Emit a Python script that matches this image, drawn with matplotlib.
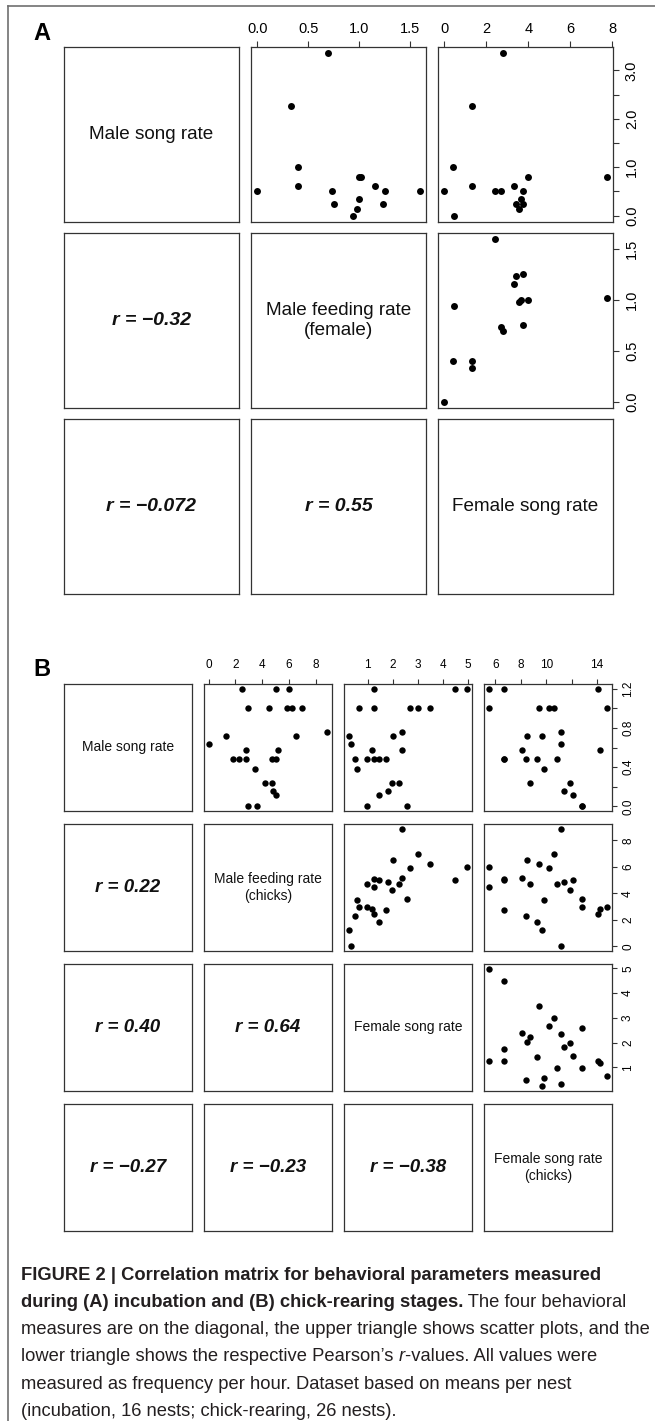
import matplotlib
matplotlib.use("Agg")
import matplotlib.pyplot as plt
from matplotlib.lines import Line2D

plt.rcParams["font.family"] = ["Liberation Sans", "DejaVu Sans"]

W, H = 655, 1421

# ---------------- panel A : incubation, 16 nests ----------------
a_male_song = [0.5, 0.24, 0.5, 0.6, 0.14, 0.35, 0.8, 0.8, 0.0, 0.24, 0.5, 3.35, 1.0, 0.6, 2.27, 0.5]
a_male_feed = [1.59, 1.23, 1.25, 1.155, 0.98, 1.0, 1.0, 1.02, 0.94, 0.75, 0.73, 0.69, 0.40, 0.40, 0.33, 0.0]
a_female_song = [2.43, 3.43, 3.75, 3.30, 3.54, 3.65, 3.99, 7.72, 0.46, 3.75, 2.67, 2.78, 0.40, 1.33, 1.33, 0.0]
a_names = ["Male song rate", "Male feeding rate\n(female)", "Female song rate"]
a_r = ["\u22120.32", "\u22120.072", "0.55"]  # (2,1), (3,1), (3,2)
a_ticks = [[0, 0.5, 1, 1.5, 2, 2.5, 3], [0, 0.5, 1, 1.5], [0, 2, 4, 6, 8]]
a_ticklabels = [["0.0", "", "1.0", "", "2.0", "", "3.0"],
                ["0.0", "0.5", "1.0", "1.5"],
                ["0", "2", "4", "6", "8"]]

# ---------------- panel B : chick-rearing, 26 nests ----------------
b_male_song = [1.2, 1.2, 1.0, 1.0, 1.0, 0.0, 0.575, 0.76, 0.24, 0.72, 0.24, 0.16, 0.48,
               0.12, 0.48, 1.0, 0.48, 1.2, 0.575, 0.48, 0.0, 1.0, 0.48, 0.385, 0.64, 0.72]
b_male_feed = [5.99, 5.01, 6.22, 7.0, 5.89, 3.6, 5.19, 8.88, 4.73, 6.54, 4.23, 4.83, 2.77,
               5.03, 1.81, 4.48, 5.06, 2.47, 2.82, 4.73, 2.97, 2.97, 2.26, 3.50, 0.0, 1.26]
b_female_song = [4.98, 4.49, 3.48, 2.99, 2.69, 2.59, 2.38, 2.36, 2.24, 2.02, 1.99, 1.82, 1.74,
                 1.47, 1.44, 1.24, 1.24, 1.24, 1.18, 0.99, 0.99, 0.67, 0.50, 0.57, 0.33, 0.24]
b_female_song_chicks = [5.47, 6.71, 9.42, 10.63, 10.21, 12.84, 8.11, 11.2, 8.69, 8.50, 11.85, 11.38, 6.71,
                        12.11, 9.29, 5.47, 6.71, 14.06, 14.21, 10.82, 12.84, 14.81, 8.42, 9.82, 11.2, 9.66]
b_names = ["Male song rate", "Male feeding rate\n(chicks)", "Female song rate",
           "Female song rate\n(chicks)"]
b_r = ["0.22", "0.40", "0.64", "\u22120.27", "\u22120.23", "\u22120.38"]  # row by row
b_ticks = [[0, 0.2, 0.4, 0.6, 0.8, 1.0, 1.2], [0, 2, 4, 6, 8], [1, 2, 3, 4, 5], [6, 8, 10, 12, 14]]
b_ticklabels = [["0.0", "", "0.4", "", "0.8", "", "1.2"],
                ["0", "2", "4", "6", "8"],
                ["1", "2", "3", "4", "5"],
                ["6", "8", "10", "", "14"]]


def lims(v):
    # R style 4 % padding
    lo, hi = min(v), max(v)
    d = (hi - lo) * 0.04
    return lo - d, hi + d


def pairs_panel(fig, data, names, rvals, ticks, ticklabels, lefts, tops, size,
                name_size, r_size, tick_size, tick_len, xpad, msize):
    n = len(data)
    k = 0
    for i in range(n):
        for j in range(n):
            x0, y0 = lefts[j], tops[i]
            ax = fig.add_axes([x0 / W, 1 - (y0 + size[1]) / H, size[0] / W, size[1] / H])
            for s in ax.spines.values():
                s.set_color("#333333")
                s.set_linewidth(0.9)
            ax.set_xticks([])
            ax.set_yticks([])
            if i == j:
                ax.text(0.5, 0.5, names[i], ha="center", va="center", fontsize=name_size,
                        color="#111111", transform=ax.transAxes, linespacing=1.25)
            elif i > j:
                ax.text(0.5, 0.5, "r = " + rvals[k], ha="center", va="center", fontsize=r_size,
                        fontweight="bold", fontstyle="italic", color="#111111",
                        transform=ax.transAxes)
                k += 1
            else:
                ax.plot(data[j], data[i], "o", color="black", markersize=msize, markeredgewidth=0)
                ax.set_xlim(lims(data[j]))
                ax.set_ylim(lims(data[i]))
                if i == 0:
                    ax.xaxis.tick_top()
                    ax.set_xticks(ticks[j])
                    ax.set_xticklabels(ticklabels[j])
                    ax.tick_params(axis="x", top=True, length=tick_len, width=0.8,
                                   pad=xpad, labelsize=tick_size, color="#333333")
                if j == n - 1:
                    ax.yaxis.tick_right()
                    ax.set_yticks(ticks[i])
                    ax.set_yticklabels(ticklabels[i], rotation=90, va="center")
                    ax.tick_params(axis="y", right=True, length=tick_len, width=0.8,
                                   pad=tick_len, labelsize=tick_size, color="#333333")


fig = plt.figure(figsize=(W / 100, H / 100), dpi=100)

# outer frame (top and left rules)
fig.add_artist(Line2D([8 / W, 1], [1 - 6 / H, 1 - 6 / H], color="#707070", lw=1.2))
fig.add_artist(Line2D([8 / W, 8 / W], [1 - 6 / H, 0], color="#707070", lw=1.2))

fig.text(42 / W, 1 - 33 / H, "A", fontsize=17, fontweight="bold", ha="center", va="center")
fig.text(42 / W, 1 - 670 / H, "B", fontsize=17, fontweight="bold", ha="center", va="center")

pairs_panel(fig, [a_male_song, a_male_feed, a_female_song], a_names, a_r,
            a_ticks, a_ticklabels, [64, 251, 438], [47, 233, 419], (175, 175),
            13.6, 14, 10.5, 4.3, 3.5, 5.0)

pairs_panel(fig, [b_male_song, b_male_feed, b_female_song, b_female_song_chicks], b_names, b_r,
            b_ticks, b_ticklabels, [64, 204, 344, 484], [684, 824, 964, 1104], (128, 127),
            10, 13.5, 8.5, 3.6, 5.6, 4.6)

# ---------------- caption ----------------
caption = [
    [("FIGURE 2 | Correlation matrix for behavioral parameters measured", "bold", "normal")],
    [("during (A) incubation and (B) chick-rearing stages.", "bold", "normal"),
     (" The four behavioral", "normal", "normal")],
    [("measures are on the diagonal, the upper triangle shows scatter plots, and the", "normal", "normal")],
    [("lower triangle shows the respective Pearson\u2019s ", "normal", "normal"),
     ("r", "normal", "italic"),
     ("-values. All values were", "normal", "normal")],
    [("measured as frequency per hour. Dataset based on means per nest", "normal", "normal")],
    [("(incubation, 16 nests; chick-rearing, 26 nests).", "normal", "normal")],
]

renderer = fig.canvas.get_renderer()
for li, line in enumerate(caption):
    x = 21
    y = 1279.5 + li * 27.3
    for txt, weight, style in line:
        t = fig.text(x / W, 1 - y / H, txt, fontsize=13.2, fontweight=weight, fontstyle=style,
                     va="baseline", ha="left", color="#231f20")
        x += t.get_window_extent(renderer=renderer).width

fig.savefig("out.png", dpi=100)
